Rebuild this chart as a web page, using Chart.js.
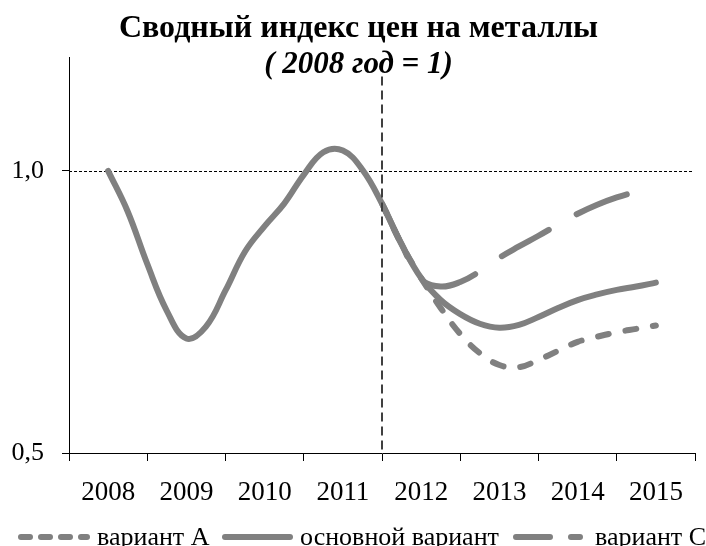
<!DOCTYPE html>
<html>
<head>
<meta charset="utf-8">
<script src="https://cdn.jsdelivr.net/npm/chart.js@4/dist/chart.umd.min.js"></script>
<style>
  html, body { margin: 0; padding: 0; background: #ffffff; }
  #wrap { width: 706px; height: 546px; }
</style>
</head>
<body>
<div id="wrap"><canvas id="c" width="706" height="546"></canvas></div>
<script>
// ---------- data ----------
const categories = ['2008', '2009', '2010', '2011', '2012', '2013', '2014', '2015'];
const yTickValues = [0.5, 1.0];
const seriesNames = ['вариант А', 'основной вариант', 'вариант С'];

const mainYears = [2008, 2008.25, 2008.5, 2008.75, 2009, 2009.25, 2009.5, 2009.75,
                   2010, 2010.25, 2010.5, 2010.75, 2011, 2011.25, 2011.5, 2011.75,
                   2012, 2012.25, 2012.5, 2012.75, 2013, 2013.25, 2013.5, 2013.75,
                   2014, 2014.25, 2014.5, 2014.75, 2015];
const mainValues = [1.000, 0.928, 0.835, 0.752, 0.703, 0.724, 0.788, 0.857,
                    0.902, 0.942, 0.993, 1.033, 1.036, 1.002, 0.942, 0.870,
                    0.810, 0.771, 0.746, 0.729, 0.722, 0.727, 0.741, 0.757,
                    0.771, 0.781, 0.789, 0.795, 0.802];

const variantYears = [2011.5, 2011.75, 2012, 2012.25, 2012.5, 2012.75, 2013, 2013.25,
                      2013.5, 2013.75, 2014, 2014.25, 2014.5, 2014.75, 2015];
const variantAValues = [0.942, 0.870, 0.810, 0.757, 0.711, 0.677, 0.656, 0.652,
                        0.665, 0.681, 0.697, 0.706, 0.714, 0.720, 0.726];
const variantCValues = [0.942, 0.870, 0.808, 0.795, 0.803, 0.822, 0.846, 0.866,
                        0.885, 0.905, 0.924, 0.940, 0.953, 0.963, 0.971];

const referenceValue = 1.0;      // 2008 = 1
const forecastBoundary = 2011.5; // between 2011 and 2012

// ---------- styling ----------
const GRAY = '#808080';
const FONT = '"Liberation Serif", "Times New Roman", serif';

const toPoints = (xs, ys) => xs.map((x, i) => ({ x: x, y: ys[i] }));

const refLines = {
  id: 'refLines',
  beforeDatasetsDraw(chart) {
    const { ctx, chartArea } = chart;
    const y = chart.scales.y.getPixelForValue(referenceValue);
    ctx.save();
    ctx.strokeStyle = '#000000';
    ctx.lineWidth = 1;
    ctx.setLineDash([3, 2]);
    ctx.beginPath();
    ctx.moveTo(chartArea.left, Math.round(y) + 0.5);
    ctx.lineTo(chartArea.right - 2, Math.round(y) + 0.5);
    ctx.stroke();
    ctx.restore();
  },
  afterDatasetsDraw(chart) {
    const { ctx, chartArea } = chart;
    const x = chart.scales.xd.getPixelForValue(forecastBoundary);
    const yTop = chart.scales.y.getPixelForValue(1.167);
    ctx.save();
    ctx.strokeStyle = '#404040';
    ctx.lineWidth = 2;
    ctx.setLineDash([9, 5]);
    ctx.beginPath();
    ctx.moveTo(Math.round(x), yTop);
    ctx.lineTo(Math.round(x), chartArea.bottom);
    ctx.stroke();
    ctx.restore();
  }
};

// legend drawn as a single row (like the original, which runs to the right edge)
const legendLayout = [
  { ds: 0, dash: [9, 11], dashOffset: 0, x0: 21, x1: 87, tx: 97 },
  { ds: 1, dash: [], dashOffset: 0, x0: 225, x1: 290, tx: 300 },
  { ds: 2, dash: [34, 21], dashOffset: 0, x0: 516, x1: 580, tx: 595 }
];
const rowLegend = {
  id: 'rowLegend',
  afterDraw(chart) {
    const { ctx } = chart;
    const lineY = 537;
    const textY = 545;
    ctx.save();
    legendLayout.forEach((it) => {
      const ds = chart.data.datasets[it.ds];
      ctx.strokeStyle = ds.borderColor;
      ctx.lineWidth = ds.borderWidth;
      ctx.lineCap = 'round';
      ctx.setLineDash(it.dash);
      ctx.lineDashOffset = it.dashOffset;
      ctx.beginPath();
      ctx.moveTo(it.x0, lineY);
      ctx.lineTo(it.x1, lineY);
      ctx.stroke();
      ctx.setLineDash([]);
      ctx.fillStyle = '#000000';
      ctx.font = '26px ' + FONT;
      ctx.textAlign = 'left';
      ctx.textBaseline = 'alphabetic';
      ctx.fillText(ds.label, it.tx, textY);
    });
    ctx.restore();
  }
};

const lineBase = {
  xAxisID: 'xd',
  yAxisID: 'y',
  borderColor: GRAY,
  backgroundColor: GRAY,
  borderWidth: 6,
  borderCapStyle: 'round',
  borderJoinStyle: 'round',
  pointRadius: 0,
  pointHoverRadius: 0,
  fill: false,
  tension: 0.4
};

new Chart(document.getElementById('c'), {
  type: 'line',
  data: {
    labels: categories,
    datasets: [
      Object.assign({}, lineBase, { label: seriesNames[0], data: toPoints(variantYears, variantAValues), borderDash: [11, 17], order: 2 }),
      Object.assign({}, lineBase, { label: seriesNames[1], data: toPoints(mainYears, mainValues), order: 0 }),
      Object.assign({}, lineBase, { label: seriesNames[2], data: toPoints(variantYears, variantCValues), borderDash: [54, 32], borderDashOffset: -4, order: 1 })
    ]
  },
  options: {
    responsive: false,
    animation: false,
    layout: { padding: { left: 11, right: 0, top: 0, bottom: 37 } },
    plugins: {
      tooltip: { enabled: false },
      legend: { display: false },
      title: {
        display: true,
        text: 'Сводный индекс цен на металлы',
        color: '#000000',
        font: { family: FONT, size: 32, weight: 'bold' },
        padding: { top: 10, bottom: -2 }
      },
      subtitle: {
        display: true,
        text: '( 2008 год = 1)',
        color: '#000000',
        font: { family: FONT, size: 31, weight: 'bold', style: 'italic' },
        padding: { top: 0, bottom: -25.6 }
      }
    },
    scales: {
      x: {
        type: 'category',
        position: 'bottom',
        offset: true,
        afterFit: (s) => { s.height = 56; },
        grid: { offset: true, drawOnChartArea: false, drawTicks: true, tickLength: 8, tickColor: '#000000', tickWidth: 1 },
        border: { display: true, color: '#000000', width: 1 },
        ticks: { color: '#000000', font: { family: FONT, size: 27 }, padding: 16, maxRotation: 0, autoSkip: false }
      },
      xd: {
        type: 'linear',
        display: false,
        min: 2007.5,
        max: 2015.5
      },
      y: {
        type: 'linear',
        position: 'left',
        min: 0.5,
        max: 1.2,
        afterBuildTicks: (s) => { s.ticks = yTickValues.map(v => ({ value: v })); },
        afterFit: (s) => { s.width = 58; },
        grid: { drawOnChartArea: false, drawTicks: true, tickLength: 7, tickColor: '#000000', tickWidth: 1 },
        border: { display: true, color: '#000000', width: 1 },
        ticks: {
          color: '#000000',
          font: { family: FONT, size: 26 },
          padding: 18,
          callback: (v) => Number(v).toFixed(1).replace('.', ',')
        }
      },
      yr: {
        type: 'linear',
        position: 'right',
        display: true,
        afterFit: (s) => { s.width = 11; },
        grid: { display: false, drawTicks: false },
        border: { display: false },
        ticks: { display: false }
      }
    }
  },
  plugins: [refLines, rowLegend]
});
</script>
</body>
</html>
